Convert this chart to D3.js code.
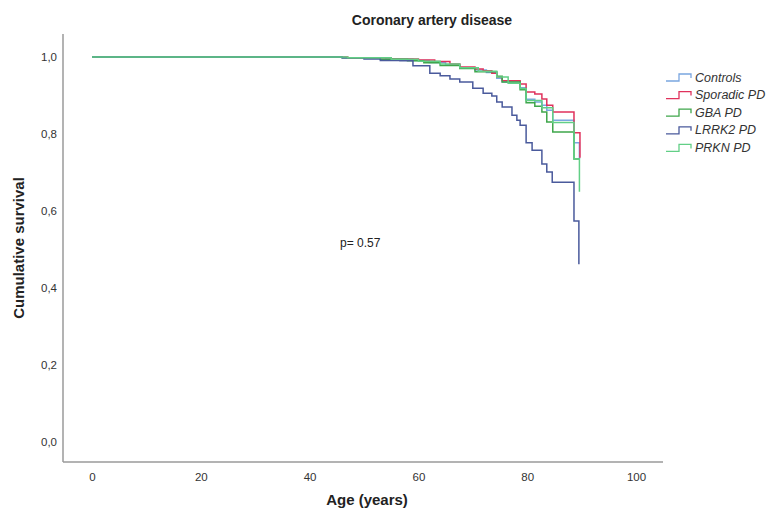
<!DOCTYPE html>
<html>
<head>
<meta charset="utf-8">
<script src="https://cdn.jsdelivr.net/npm/d3@7"></script>
<style>
  body { margin: 0; background: #fff; }
  svg { font-family: "Liberation Sans", Arial, sans-serif; }
</style>
</head>
<body>
<svg id="chart" width="772" height="513"></svg>
<script>
// groups and legend order
var groups = ["Controls", "Sporadic PD", "GBA PD", "LRRK2 PD", "PRKN PD"];
var colors = ["#7aa6e0", "#e0325c", "#3fa64b", "#4a5a9c", "#62cf86"];

// Kaplan-Meier steps [age, cumulative survival]
var controls = [[0,1],[46,0.998],[54,0.995],[59,0.991],[62,0.986],[65,0.980],[67.6,0.972],[70.4,0.966],[72.5,0.960],
  [74.4,0.945],[75.4,0.935],[78.7,0.920],[79.8,0.890],[81.4,0.883],[82.7,0.875],[83.6,0.862],[84.7,0.836],[88.6,0.777],[89.6,0.735]];
var sporadic = [[0,1],[47,0.998],[55,0.995],[60,0.992],[63,0.988],[65.8,0.982],[67.6,0.974],[70.4,0.969],[71.9,0.964],
  [73.5,0.958],[74.4,0.948],[75.4,0.938],[78.7,0.930],[79.8,0.909],[81.4,0.904],[82.7,0.891],[83.6,0.875],[84.7,0.857],[88.6,0.803],[89.7,0.738]];
var gba = [[0,1],[46,0.998],[53,0.994],[58,0.990],[61,0.985],[64,0.978],[67.6,0.970],[70.4,0.962],[74.4,0.950],
  [75.4,0.935],[78.7,0.915],[79.8,0.881],[81.4,0.872],[82.7,0.857],[83.6,0.831],[84.7,0.805],[88.6,0.735],[89.6,0.735]];
var lrrk2 = [[0,1],[46,0.998],[50,0.995],[53,0.991],[56.6,0.990],[59,0.977],[62.1,0.958],[64,0.951],[65.8,0.943],
  [67.6,0.935],[70,0.919],[71.9,0.906],[73.5,0.899],[74.4,0.883],[75.4,0.870],[77.2,0.849],[78.1,0.836],[78.7,0.823],
  [79.8,0.777],[80.9,0.758],[82.7,0.722],[83.6,0.701],[84.6,0.675],[88.6,0.574],[89.5,0.462]];
var prkn = [[0,1],[47,0.998],[55,0.994],[60,0.989],[64,0.982],[67.6,0.972],[71,0.963],[74.4,0.948],[76.5,0.932],
  [78.7,0.918],[79.8,0.887],[82.7,0.868],[84.7,0.830],[88.6,0.735],[89.6,0.650]];
var series = [controls, sporadic, gba, lrrk2, prkn];

var xTicks = [0, 20, 40, 60, 80, 100];
var yTicks = [0, 0.2, 0.4, 0.6, 0.8, 1.0];

var svg = d3.select("#chart");
var x = d3.scaleLinear().domain([0, 100]).range([92, 636]);
var y = d3.scaleLinear().domain([0, 1]).range([442, 57]);

var loc = d3.formatLocale({decimal: ",", thousands: ".", grouping: [3], currency: ["", ""]});
var fmt = loc.format(".1f");

// frame
svg.append("line").attr("x1", 63).attr("x2", 63).attr("y1", 34).attr("y2", 462)
  .attr("stroke", "#9a9a9a").attr("stroke-width", 1.5);
svg.append("line").attr("x1", 63).attr("x2", 663).attr("y1", 462).attr("y2", 462)
  .attr("stroke", "#9a9a9a").attr("stroke-width", 1.5);

// axes (labels only, no ticks)
var gx = svg.append("g").attr("transform", "translate(0,462)")
  .call(d3.axisBottom(x).tickValues(xTicks).tickSize(0).tickPadding(11));
var gy = svg.append("g").attr("transform", "translate(63,0)")
  .call(d3.axisLeft(y).tickValues(yTicks).tickFormat(fmt).tickSize(0).tickPadding(6));
[gx, gy].forEach(function(g) {
  g.select(".domain").remove();
  g.selectAll("text").attr("font-size", 11.5).attr("fill", "#333")
    .attr("font-family", "Liberation Sans, Arial, sans-serif");
});

// curves
var line = d3.line().x(d => x(d[0])).y(d => y(d[1])).curve(d3.curveStepAfter);
svg.selectAll(".km")
  .data(series)
  .enter()
  .append("path")
  .attr("class", "km")
  .attr("d", line)
  .attr("fill", "none")
  .attr("stroke", (d, i) => colors[i])
  .attr("stroke-width", 1.5);

// titles
svg.append("text").attr("x", 432).attr("y", 25).attr("text-anchor", "middle")
  .attr("font-size", 14).attr("font-weight", "bold").attr("fill", "#222").text("Coronary artery disease");
svg.append("text").attr("x", 367).attr("y", 505).attr("text-anchor", "middle")
  .attr("font-size", 15).attr("font-weight", "bold").attr("fill", "#222").text("Age (years)");
svg.append("text").attr("transform", "translate(24,248) rotate(-90)").attr("text-anchor", "middle")
  .attr("font-size", 15).attr("font-weight", "bold").attr("fill", "#222").text("Cumulative survival");
svg.append("text").attr("x", 340).attr("y", 247)
  .attr("font-size", 12).attr("fill", "#222").text("p= 0.57");

// legend
var leg = svg.selectAll(".leg")
  .data(groups)
  .enter()
  .append("g")
  .attr("class", "leg")
  .attr("transform", (d, i) => "translate(666," + (77 + i * 17.6) + ")");
leg.append("path")
  .attr("d", "M0,4H13V-3H25V1")
  .attr("fill", "none")
  .attr("stroke", (d, i) => colors[i])
  .attr("stroke-width", 1.3);
leg.append("text")
  .attr("x", 29).attr("y", 4.5)
  .attr("font-size", 12.5).attr("font-style", "italic").attr("fill", "#333")
  .text(d => d);
</script>
</body>
</html>
